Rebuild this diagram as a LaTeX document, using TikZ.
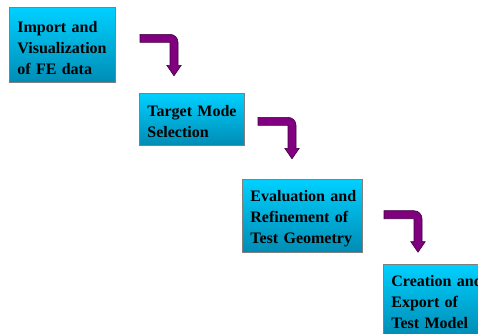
\documentclass[tikz,border=0pt]{standalone}
\usepackage{fontspec}
\setmainfont{Liberation Serif}
\definecolor{boxtop}{RGB}{0,208,255}
\definecolor{boxbot}{RGB}{0,140,180}
\definecolor{arrowpurple}{RGB}{128,0,128}
\definecolor{arrowdark}{RGB}{60,0,60}
\newcommand{\oneline}[1]{\mbox{#1}}
\newcommand{\firstline}[1]{\mbox{\rule{0pt}{16pt}#1}}
\begin{document}
\begin{tikzpicture}[x=1pt,y=-1pt,
  stepbox/.style={draw=gray, line width=0.8pt, top color=boxtop, bottom color=boxbot,
    anchor=north west, align=left, inner xsep=8pt, inner ysep=0pt,
    font=\bfseries\fontsize{16}{21}\selectfont, text=black},
  bentarrow/.pic={\filldraw[fill=arrowpurple, draw=arrowdark, line width=0.6pt]
    (0,0) -- (30,0) .. controls (34.4,0) and (38,3.6) .. (38,8) -- (38,31)
    -- (41.2,31) -- (34,41.5) -- (26.8,31) -- (30,31) -- (30,8) -- (0,8) -- cycle;}]
\path[use as bounding box] (0,0) rectangle (478,333);
\clip (0,0) rectangle (478,333);
\node[stepbox, text width=90pt, minimum height=75pt] (b1) at (9,7.3) {\firstline{Import and}\\\oneline{Visualization}\\\oneline{of FE data}};
\node[stepbox, text width=89pt, minimum height=52pt] (b2) at (139,93) {\firstline{Target Mode}\\\oneline{Selection}};
\node[stepbox, text width=104pt, minimum height=73pt] (b3) at (242,179) {\firstline{Evaluation and}\\\oneline{Refinement of}\\\oneline{Test Geometry}};
\node[stepbox, text width=104pt, minimum height=71pt] (b4) at (383,264) {\firstline{Creation and}\\\oneline{Export of}\\\oneline{Test Model}};
\coordinate (a1) at (140,34.3);
\coordinate (a2) at (258,117.3);
\coordinate (a3) at (384,210.7);
\pic at (a1) {bentarrow};
\pic at (a2) {bentarrow};
\pic at (a3) {bentarrow};
\end{tikzpicture}
\end{document}
